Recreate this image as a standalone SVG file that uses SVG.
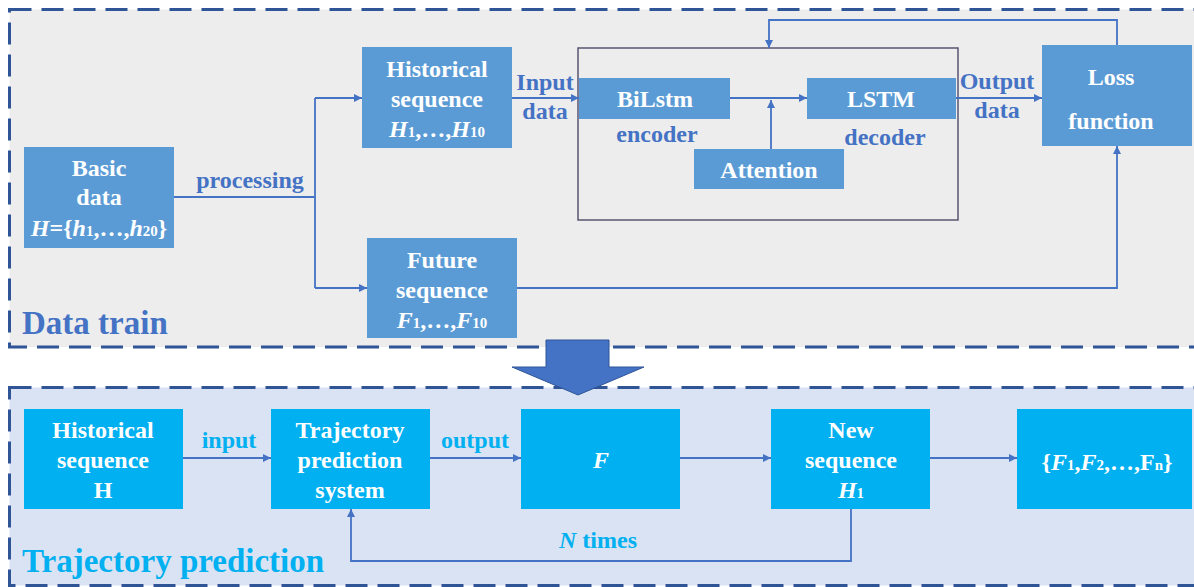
<svg xmlns="http://www.w3.org/2000/svg" width="1194" height="587" viewBox="0 0 1194 587">
<defs>
<marker id="ah" viewBox="0 0 10 10" refX="10" refY="5" markerWidth="9" markerHeight="8" markerUnits="userSpaceOnUse" orient="auto">
<path d="M0,0 L10,5 L0,10 z" fill="#4472c4"/>
</marker>
</defs>
<style>
.panel{stroke:#2f5597;stroke-width:3;stroke-dasharray:22 10}
.b1{fill:#5b9bd5}
.b2{fill:#00b0f0}
.t{font-family:"Liberation Serif","Times New Roman",serif;font-weight:bold;font-size:24px;fill:#ffffff;text-anchor:middle}
.l1{font-family:"Liberation Serif","Times New Roman",serif;font-weight:bold;font-size:24px;fill:#4472c4;text-anchor:middle}
.l2{font-family:"Liberation Serif","Times New Roman",serif;font-weight:bold;font-size:24px;fill:#00b0f0;text-anchor:middle}
.big{font-family:"Liberation Serif","Times New Roman",serif;font-weight:bold;font-size:33px}
.c{fill:none;stroke:#4472c4;stroke-width:1.8}
.i{font-style:italic}
.s{font-size:15px;font-style:normal}
</style>
<rect class="panel" x="9.5" y="9.5" width="1200" height="337.5" fill="#ededed"/>
<rect class="panel" x="9.5" y="387.5" width="1200" height="198" fill="#dae3f3"/>
<text class="big" x="22" y="334" fill="#4472c4">Data train</text>
<text class="big" x="22" y="572" fill="#00b0f0">Trajectory prediction</text>
<polygon id="bigarrow" points="546,340 609,340 609,367 644,367 578,395 512,367 546,367" fill="#4472c4" stroke="#2f5597" stroke-width="1"/>
<rect id="container" x="578" y="48" width="380" height="172" fill="none" stroke="#595470" stroke-width="1.5"/>
<g id="connectors">
<polyline class="c" points="174,197 315,197"/>
<polyline class="c" points="315,98 315,288"/>
<polyline class="c" points="315,98 362,98" marker-end="url(#ah)"/>
<polyline class="c" points="315,288 367,288" marker-end="url(#ah)"/>
<polyline class="c" points="512,98 579,98" marker-end="url(#ah)"/>
<polyline class="c" points="730,98 807,98" marker-end="url(#ah)"/>
<polyline class="c" points="771,149 771,100" marker-end="url(#ah)"/>
<polyline class="c" points="956,98 1042,98" marker-end="url(#ah)"/>
<polyline class="c" points="1117,45 1117,20 769,20 769,48" marker-end="url(#ah)"/>
<polyline class="c" points="517,288 1117,288 1117,146" marker-end="url(#ah)"/>
<polyline class="c" points="183,458 271,458" marker-end="url(#ah)"/>
<polyline class="c" points="430,458 521,458" marker-end="url(#ah)"/>
<polyline class="c" points="680,458 771,458" marker-end="url(#ah)"/>
<polyline class="c" points="930,458 1017,458" marker-end="url(#ah)"/>
<polyline class="c" points="851,509 851,561 351,561 351,509" marker-end="url(#ah)"/>
</g>
<text class="l1" x="250" y="188">processing</text>
<text class="l1" x="545" y="90">Input</text>
<text class="l1" x="545" y="119">data</text>
<text class="l1" x="657" y="142">encoder</text>
<text class="l1" x="885" y="145">decoder</text>
<text class="l1" x="997" y="89">Output</text>
<text class="l1" x="997" y="118">data</text>
<text class="l2" x="229" y="448">input</text>
<text class="l2" x="475" y="448">output</text>
<text class="l2" x="598" y="548"><tspan class="i">N</tspan> times</text>
<g id="basic">
<rect class="b1" x="24" y="147" width="150" height="101"/>
<text class="t" x="99" y="176">Basic</text>
<text class="t" x="99" y="205">data</text>
<text class="t" x="99" y="236"><tspan class="i">H</tspan>={<tspan class="i">h</tspan><tspan class="s">1</tspan>,…,<tspan class="i">h</tspan><tspan class="s">20</tspan>}</text>
</g>
<g id="historical">
<rect class="b1" x="362" y="47" width="150" height="101"/>
<text class="t" x="437" y="77">Historical</text>
<text class="t" x="437" y="107">sequence</text>
<text class="t" x="437" y="137"><tspan class="i">H</tspan><tspan class="s">1</tspan>,…,<tspan class="i">H</tspan><tspan class="s">10</tspan></text>
</g>
<g id="future">
<rect class="b1" x="367" y="238" width="150" height="100"/>
<text class="t" x="442" y="268">Future</text>
<text class="t" x="442" y="298">sequence</text>
<text class="t" x="442" y="328"><tspan class="i">F</tspan><tspan class="s">1</tspan>,…,<tspan class="i">F</tspan><tspan class="s">10</tspan></text>
</g>
<g id="bilstm">
<rect class="b1" x="579" y="78" width="151" height="41"/>
<text class="t" x="655" y="107">BiLstm</text>
</g>
<g id="lstm">
<rect class="b1" x="807" y="78" width="149" height="41"/>
<text class="t" x="881" y="107">LSTM</text>
</g>
<g id="attention">
<rect class="b1" x="694" y="149" width="150" height="40"/>
<text class="t" x="769" y="178">Attention</text>
</g>
<g id="loss">
<rect class="b1" x="1042" y="45" width="150" height="101"/>
<text class="t" x="1111" y="85">Loss</text>
<text class="t" x="1111" y="129">function</text>
</g>
<g id="hist2">
<rect class="b2" x="24" y="409" width="159" height="100"/>
<text class="t" x="103" y="438">Historical</text>
<text class="t" x="103" y="468">sequence</text>
<text class="t" x="103" y="498">H</text>
</g>
<g id="tps">
<rect class="b2" x="271" y="409" width="159" height="100"/>
<text class="t" x="350" y="438">Trajectory</text>
<text class="t" x="350" y="468">prediction</text>
<text class="t" x="350" y="498">system</text>
</g>
<g id="fbox">
<rect class="b2" x="521" y="409" width="159" height="100"/>
<text class="t i" x="601" y="468">F</text>
</g>
<g id="newseq">
<rect class="b2" x="771" y="409" width="159" height="100"/>
<text class="t" x="851" y="438">New</text>
<text class="t" x="851" y="468">sequence</text>
<text class="t" x="851" y="498"><tspan class="i">H</tspan><tspan class="s">1</tspan></text>
</g>
<g id="result">
<rect class="b2" x="1017" y="409" width="175" height="100"/>
<text class="t" x="1107" y="470">{<tspan class="i">F</tspan><tspan class="s">1</tspan>,<tspan class="i">F</tspan><tspan class="s">2</tspan>,…,F<tspan class="s">n</tspan>}</text>
</g>
</svg>
